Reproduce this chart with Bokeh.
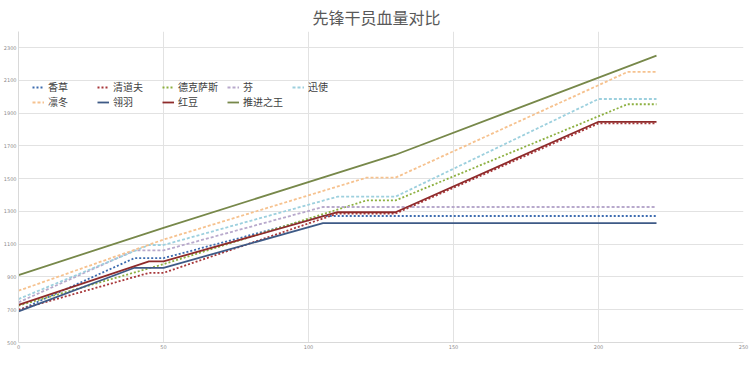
from bokeh.plotting import figure
from bokeh.models import Legend, LegendItem, FixedTicker, Range1d
from bokeh.embed import file_html
from bokeh.resources import INLINE

# x positions (cumulative level index) of the breakpoints by rarity
x3 = [0, 40, 50, 105, 220]
x4 = [0, 45, 50, 110, 130, 200, 220]
x5 = [0, 50, 120, 130, 210, 220]
x6 = [0, 50, 130, 220]

# HP values at those breakpoints
hp_xiangcao = [695, 1015, 1015, 1272, 1272]
hp_fen = [745, 1062, 1062, 1327, 1327]
hp_lingyu = [690, 956, 956, 1228, 1228]
hp_qingdaofu = [700, 925, 925, 1287, 1287, 1837, 1837]
hp_hongdou = [730, 995, 995, 1295, 1295, 1847, 1847]
hp_xunshi = [765, 1095, 1095, 1390, 1390, 1986, 1986]
hp_texas = [725, 978, 1367, 1367, 1954, 1954]
hp_lindong = [816, 1128, 1506, 1506, 2151, 2151]
hp_siege = [911, 1200, 1646, 2251]

x_ticks = [0, 50, 100, 150, 200, 250]
y_ticks = [500, 700, 900, 1100, 1300, 1500, 1700, 1900, 2100, 2300]

title_text = "先锋干员血量对比"

series = [
    ("香草", x3, hp_xiangcao, "#3d6cb0", "2 2"),
    ("清道夫", x4, hp_qingdaofu, "#a8373a", "2 2"),
    ("德克萨斯", x5, hp_texas, "#8db040", "2 2"),
    ("芬", x3, hp_fen, "#b8a9cc", "3 2"),
    ("迅使", x4, hp_xunshi, "#9dd0de", "3 2"),
    ("凛冬", x5, hp_lindong, "#f6c28f", "3 2"),
    ("翎羽", x3, hp_lingyu, "#3e5a86", "solid"),
    ("红豆", x4, hp_hongdou, "#8e2b2b", "solid"),
    ("推进之王", x6, hp_siege, "#77884a", "solid"),
]

FONT = "Noto Sans CJK SC"

p = figure(width=750, height=376, output_backend="svg", toolbar_location=None,
           x_range=Range1d(0, 250), y_range=Range1d(500, 2398),
           min_border_left=17, min_border_right=7, min_border_top=31, min_border_bottom=34,
           title=title_text)

p.title.text_font = FONT
p.title.text_font_size = "16px"
p.title.text_font_style = "normal"
p.title.text_color = "#595959"
p.title.align = "left"
p.title.offset = 294
p.title.standoff = 5

p.outline_line_color = None
p.background_fill_color = "white"
p.border_fill_color = "white"

p.xaxis.ticker = FixedTicker(ticks=x_ticks)
p.yaxis.ticker = FixedTicker(ticks=y_ticks)
p.xgrid.ticker = FixedTicker(ticks=x_ticks)
p.ygrid.ticker = FixedTicker(ticks=y_ticks)
p.grid.grid_line_color = "#e2e2e2"
p.grid.grid_line_width = 1
p.axis.axis_line_color = "#d9d9d9"
p.axis.major_tick_line_color = None
p.axis.minor_tick_line_color = None
p.axis.major_tick_out = 0
p.axis.major_tick_in = 0
p.axis.minor_tick_out = 0
p.axis.minor_tick_in = 0
p.axis.major_label_text_font_size = "5px"
p.axis.major_label_text_color = "#8c8c8c"
p.axis.major_label_text_font = "DejaVu Sans"
p.axis.major_label_standoff = 2

items = []
for name, xs, ys, color, dash in series:
    r = p.line(xs, ys, line_color=color, line_width=1.8, line_dash=dash)
    items.append(LegendItem(label=name, renderers=[r]))

legend = Legend(items=items, location=(14, 233), orientation="horizontal", ncols=5,
                glyph_width=12, glyph_height=12, label_height=12, label_width=49,
                label_standoff=4, spacing=0, padding=0, margin=0,
                border_line_alpha=0, background_fill_alpha=0,
                label_text_font=FONT, label_text_font_size="10px",
                label_text_color="#404040")
p.add_layout(legend)

open("out.html", "w").write(file_html(p, INLINE))
